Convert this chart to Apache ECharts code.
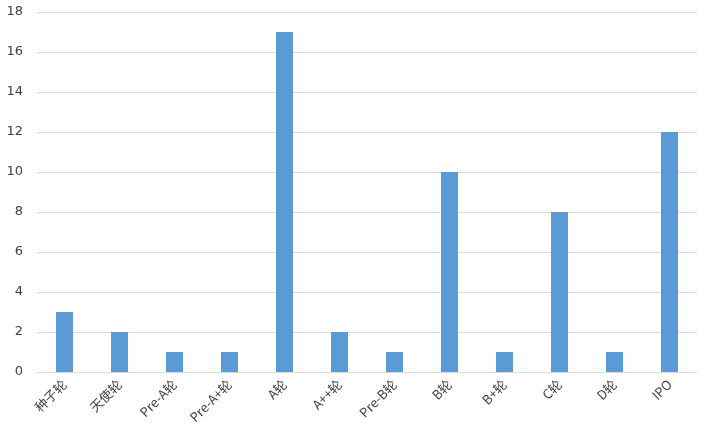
<!DOCTYPE html>
<html>
<head>
<meta charset="utf-8">
<script src="https://cdn.jsdelivr.net/npm/echarts@6/dist/echarts.min.js"></script>
<style>
html, body { margin: 0; padding: 0; background: #fff; }
#chart { width: 704px; height: 437px; }
</style>
</head>
<body>
<div id="chart"></div>
<script>
// 融资轮次
var rounds = ['种子轮', '天使轮', 'Pre-A轮', 'Pre-A+轮', 'A轮', 'A++轮', 'Pre-B轮', 'B轮', 'B+轮', 'C轮', 'D轮', 'IPO'];
var counts = [3, 2, 1, 1, 17, 2, 1, 10, 1, 8, 1, 12];

var chart = echarts.init(document.getElementById('chart'));
var option = {
    animation: false,
    grid: { left: 37, right: 7, top: 12, bottom: 65 },
    xAxis: {
        type: 'category',
        data: rounds,
        axisLine: { lineStyle: { color: '#d9d9d9' } },
        axisTick: { show: false },
        axisLabel: {
            interval: 0,
            rotate: 45,
            color: '#404040',
            fontSize: 13,
            fontFamily: 'Noto Sans CJK SC',
            margin: 10
        }
    },
    yAxis: {
        type: 'value',
        min: 0,
        max: 18,
        interval: 2,
        axisLine: { show: false },
        axisTick: { show: false },
        splitLine: { lineStyle: { color: '#d9d9d9' } },
        axisLabel: { color: '#404040', fontSize: 13, fontFamily: 'DejaVu Sans', margin: 14 }
    },
    series: [{
        type: 'bar',
        data: counts,
        barWidth: 17,
        itemStyle: { color: '#5b9bd5' }
    }]
};
chart.setOption(option);
</script>
</body>
</html>
